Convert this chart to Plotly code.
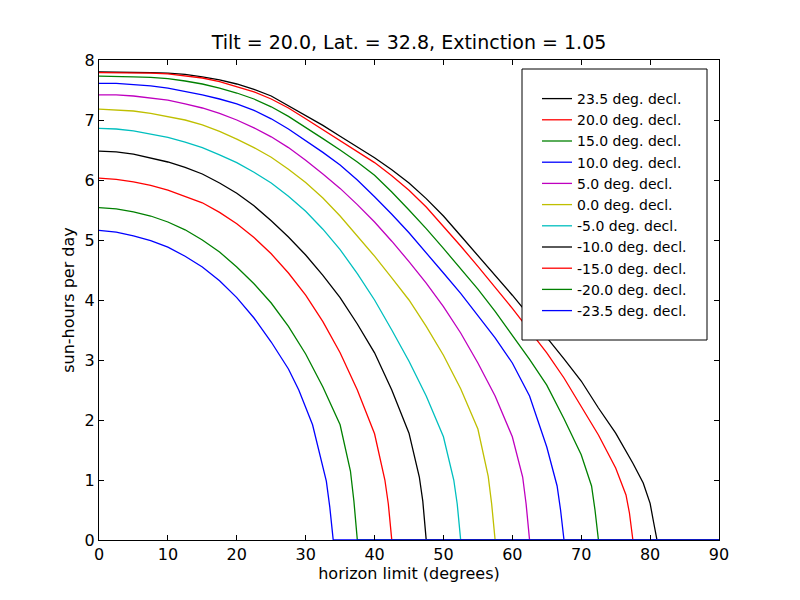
import plotly.graph_objects as go

labels = ["23.5 deg. decl.", "20.0 deg. decl.", "15.0 deg. decl.", "10.0 deg. decl.",
          "5.0 deg. decl.", "0.0 deg. decl.", "-5.0 deg. decl.", "-10.0 deg. decl.",
          "-15.0 deg. decl.", "-20.0 deg. decl.", "-23.5 deg. decl."]
colors = ["#000000", "#ff0000", "#008000", "#0000ff", "#bf00bf", "#bfbf00",
          "#00bfbf", "#000000", "#ff0000", "#008000", "#0000ff"]

# horizon limit (degrees) and sun-hours per day, one pair per declination
x_p235 = [0, 2.5, 5, 7.5, 10, 12.5, 15, 17.5, 20, 22.5, 25, 27.5, 30, 32.5, 35, 37.5, 40, 42.5, 45, 47.5,
          50, 52.5, 55, 57.5, 60, 62.5, 65, 67.5, 70, 72.5, 75, 77.5, 79, 80, 80.5, 81, 90]
y_p235 = [7.80, 7.80, 7.80, 7.79, 7.78, 7.76, 7.72, 7.67, 7.60, 7.51, 7.40, 7.24, 7.08, 6.91, 6.73, 6.55, 6.37, 6.17, 5.95, 5.69,
          5.40, 5.07, 4.74, 4.41, 4.08, 3.73, 3.38, 3.02, 2.65, 2.20, 1.78, 1.28, 0.95, 0.61, 0.30, 0, 0]

x_p200 = [0, 2.5, 5, 7.5, 10, 12.5, 15, 17.5, 20, 22.5, 25, 27.5, 30, 32.5, 35, 37.5, 40, 42.5, 45, 47.5,
          50, 52.5, 55, 57.5, 60, 62.5, 65, 67.5, 70, 72.5, 75, 76.5, 77, 77.5, 90]
y_p200 = [7.79, 7.79, 7.79, 7.78, 7.77, 7.74, 7.70, 7.64, 7.56, 7.47, 7.35, 7.20, 7.02, 6.84, 6.66, 6.48, 6.29, 6.07, 5.83, 5.55,
          5.23, 4.90, 4.56, 4.21, 3.86, 3.49, 3.12, 2.70, 2.22, 1.75, 1.20, 0.75, 0.45, 0, 0]

x_p150 = [0, 2.5, 5, 7.5, 10, 12.5, 15, 17.5, 20, 22.5, 25, 27.5, 30, 32.5, 35, 37.5, 40, 42.5, 45, 47.5,
          50, 52.5, 55, 57.5, 60, 62.5, 65, 67.5, 70, 71.5, 72, 72.5, 90]
y_p150 = [7.73, 7.73, 7.72, 7.71, 7.69, 7.65, 7.60, 7.53, 7.45, 7.35, 7.22, 7.06, 6.88, 6.69, 6.50, 6.30, 6.08, 5.80, 5.50, 5.19,
          4.86, 4.52, 4.18, 3.81, 3.42, 3.01, 2.58, 2.02, 1.42, 0.90, 0.50, 0, 0]

x_p100 = [0, 2.5, 5, 7.5, 10, 12.5, 15, 17.5, 20, 22.5, 25, 27.5, 30, 32.5, 35, 37.5, 40, 42.5, 45, 47.5,
          50, 52.5, 55, 57.5, 60, 62.5, 65, 66.5, 67, 67.5, 90]
y_p100 = [7.61, 7.61, 7.59, 7.57, 7.53, 7.48, 7.42, 7.35, 7.27, 7.16, 7.02, 6.85, 6.66, 6.46, 6.25, 6.00, 5.72, 5.43, 5.12, 4.79,
          4.45, 4.11, 3.75, 3.37, 2.95, 2.40, 1.55, 0.90, 0.50, 0, 0]

x_p050 = [0, 2.5, 5, 7.5, 10, 12.5, 15, 17.5, 20, 22.5, 25, 27.5, 30, 32.5, 35, 37.5, 40, 42.5, 45, 47.5,
          50, 52.5, 55, 57.5, 60, 61.5, 62, 62.5, 90]
y_p050 = [7.42, 7.42, 7.40, 7.37, 7.33, 7.27, 7.20, 7.11, 7.00, 6.87, 6.72, 6.54, 6.33, 6.10, 5.86, 5.59, 5.30, 4.98, 4.64, 4.28,
          3.89, 3.45, 2.95, 2.40, 1.72, 1.05, 0.60, 0, 0]

x_p000 = [0, 2.5, 5, 7.5, 10, 12.5, 15, 17.5, 20, 22.5, 25, 27.5, 30, 32.5, 35, 37.5, 40, 42.5, 45, 47.5,
          50, 52.5, 55, 56.5, 57, 57.5, 90]
y_p000 = [7.18, 7.17, 7.15, 7.11, 7.06, 7.00, 6.92, 6.81, 6.68, 6.54, 6.38, 6.18, 5.96, 5.70, 5.40, 5.07, 4.73, 4.37, 4.00, 3.56,
          3.08, 2.52, 1.85, 1.06, 0.60, 0, 0]

x_m050 = [0, 2.5, 5, 7.5, 10, 12.5, 15, 17.5, 20, 22.5, 25, 27.5, 30, 32.5, 35, 37.5, 40, 42.5, 45, 47.5,
          50, 51.5, 52, 52.5, 90]
y_m050 = [6.86, 6.85, 6.82, 6.77, 6.71, 6.63, 6.54, 6.42, 6.29, 6.13, 5.95, 5.73, 5.48, 5.18, 4.84, 4.44, 4.00, 3.50, 2.98, 2.40,
          1.72, 1.00, 0.60, 0, 0]

x_m100 = [0, 2.5, 5, 7.5, 10, 12.5, 15, 17.5, 20, 22.5, 25, 27.5, 30, 32.5, 35, 37.5, 40, 42.5, 45, 46.5,
          47, 47.5, 90]
y_m100 = [6.48, 6.47, 6.43, 6.37, 6.30, 6.21, 6.10, 5.95, 5.78, 5.57, 5.32, 5.05, 4.75, 4.41, 4.04, 3.60, 3.12, 2.50, 1.78, 1.05,
          0.65, 0, 0]

x_m150 = [0, 2.5, 5, 7.5, 10, 12.5, 15, 17.5, 20, 22.5, 25, 27.5, 30, 32.5, 35, 37.5, 40, 41.5, 42, 42.5, 90]
y_m150 = [6.03, 6.01, 5.97, 5.91, 5.83, 5.73, 5.62, 5.46, 5.27, 5.04, 4.77, 4.45, 4.08, 3.64, 3.12, 2.50, 1.77, 1.00, 0.60, 0, 0]

x_m200 = [0, 2.5, 5, 7.5, 10, 12.5, 15, 17.5, 20, 22.5, 25, 27.5, 30, 32.5, 35, 36.5, 37, 37.5, 90]
y_m200 = [5.54, 5.52, 5.47, 5.40, 5.30, 5.17, 5.00, 4.80, 4.55, 4.27, 3.95, 3.56, 3.10, 2.55, 1.92, 1.15, 0.65, 0, 0]

x_m235 = [0, 2.5, 5, 7.5, 10, 12.5, 15, 17.5, 20, 22.5, 25, 27.5, 29, 31, 33, 33.5, 34, 90]
y_m235 = [5.16, 5.13, 5.07, 4.99, 4.88, 4.73, 4.55, 4.32, 4.04, 3.70, 3.30, 2.85, 2.50, 1.92, 0.98, 0.55, 0, 0]

xs = [x_p235, x_p200, x_p150, x_p100, x_p050, x_p000, x_m050, x_m100, x_m150, x_m200, x_m235]
ys = [y_p235, y_p200, y_p150, y_p100, y_p050, y_p000, y_m050, y_m100, y_m150, y_m200, y_m235]

x_ticks = [0, 10, 20, 30, 40, 50, 60, 70, 80, 90]
y_ticks = [0, 1, 2, 3, 4, 5, 6, 7, 8]

FONT = "DejaVu Sans"
W, H = 792, 592   # page body has an 8px margin

fig = go.Figure()
for i, (xv, yv, name, col) in enumerate(zip(xs, ys, labels, colors)):
    fig.add_trace(go.Scatter(x=xv, y=yv, mode="lines", name=name,
                             line=dict(color=col, width=1.3),
                             legendgroup="g%d" % i))

axis_common = dict(showline=True, linecolor="black", linewidth=1, mirror="ticks",
                   ticks="inside", ticklen=5, tickcolor="black", showgrid=False,
                   zeroline=False, tickfont=dict(family=FONT, size=16, color="black"))

fig.update_xaxes(range=[0, 90], tickvals=x_ticks,
                 title=dict(text="horizon limit (degrees)", font=dict(family=FONT, size=16, color="black"), standoff=2),
                 **axis_common)
fig.update_yaxes(range=[0, 8], tickvals=y_ticks,
                 title=dict(text="sun-hours per day", font=dict(family=FONT, size=16, color="black"), standoff=6),
                 **axis_common)

fig.add_shape(type="rect", xref="paper", yref="paper",
              x0=(522 - 99) / 620, x1=(707 - 99) / 620,
              y0=(540 - 340) / 480, y1=(540 - 69) / 480,
              line=dict(color="black", width=1), fillcolor="white", layer="above")

fig.update_layout(
    width=W, height=H,
    margin=dict(l=91, r=81, t=52, b=60, autoexpand=False),
    paper_bgcolor="white", plot_bgcolor="white",
    title=dict(text="Tilt = 20.0, Lat. = 32.8, Extinction = 1.05", x=(409 - 8) / W, xanchor="center",
               y=1 - 34 / H, yanchor="middle", font=dict(family=FONT, size=19, color="black")),
    legend=dict(x=(537 - 99) / 620, xanchor="left", y=(540 - 83) / 480, yanchor="top",
                bgcolor="rgba(0,0,0,0)", borderwidth=0, traceorder="normal",
                tracegroupgap=0, font=dict(family=FONT, size=14, color="black")),
    showlegend=True,
)

fig.write_html("out.html")
